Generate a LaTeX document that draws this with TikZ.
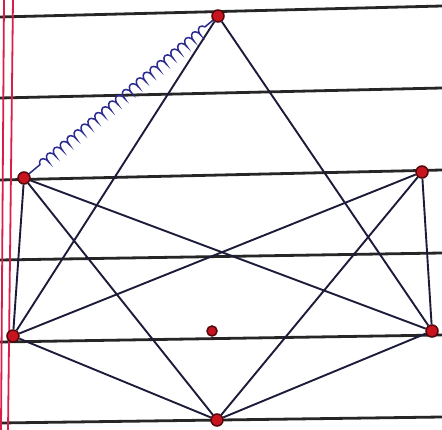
\documentclass[tikz,border=0pt]{standalone}
\usetikzlibrary{decorations.pathmorphing}
\definecolor{ink}{HTML}{1C1B3A}
\definecolor{pen}{HTML}{2A2A90}
\definecolor{rule}{HTML}{262626}
\definecolor{margin}{HTML}{D81F4A}
\definecolor{dotred}{HTML}{C8141E}
\tikzset{
  edge/.style={draw=ink, line width=1.9pt},
  ruleline/.style={draw=rule, line width=2.8pt},
  marginline/.style={draw=margin, line width=1.8pt},
  vtx/.style={circle, fill=dotred, draw=black!60!dotred, line width=1.5pt, inner sep=0pt, minimum size=12pt},
  scribble/.style={draw=pen, line width=1.5pt, decorate,
    decoration={coil, amplitude=3.5pt, segment length=9pt, pre length=14pt, post length=10pt}}
}
\begin{document}
\begin{tikzpicture}[x=1pt,y=-1pt]
\fill[white] (0,0) rectangle (442,430);
\useasboundingbox (0,0) rectangle (442,430);
% notebook rules
\draw[ruleline] (0,17) -- (442,6);
\draw[ruleline] (0,98) -- (442,88);
\draw[ruleline] (0,180) -- (442,170);
\draw[ruleline] (0,260) -- (442,253);
\draw[ruleline] (0,342) -- (442,335);
\draw[ruleline] (0,423) -- (442,417);
% margin lines
\draw[marginline] (4,0) -- (1,430);
\draw[marginline] (13,0) -- (8,430);
% vertices
\node[vtx] (T) at (218,16) {};
\node[vtx] (LU) at (24,178) {};
\node[vtx] (RU) at (422,172) {};
\node[vtx] (LL) at (13,336) {};
\node[vtx, minimum size=10pt] (C) at (212,331) {};
\node[vtx] (RL) at (432,331) {};
\node[vtx] (B) at (217,420) {};
% edges
\draw[edge] (T) -- (LL);
\draw[edge] (T) -- (RL);
\draw[edge] (LU) -- (LL);
\draw[edge] (LU) -- (RL);
\draw[edge] (LU) -- (B);
\draw[edge] (RU) -- (LL);
\draw[edge] (RU) -- (B);
\draw[edge] (RU) -- (RL);
\draw[edge] (LL) -- (B);
\draw[edge] (B) -- (RL);
\draw[scribble] (LU) -- (T);
\end{tikzpicture}
\end{document}
